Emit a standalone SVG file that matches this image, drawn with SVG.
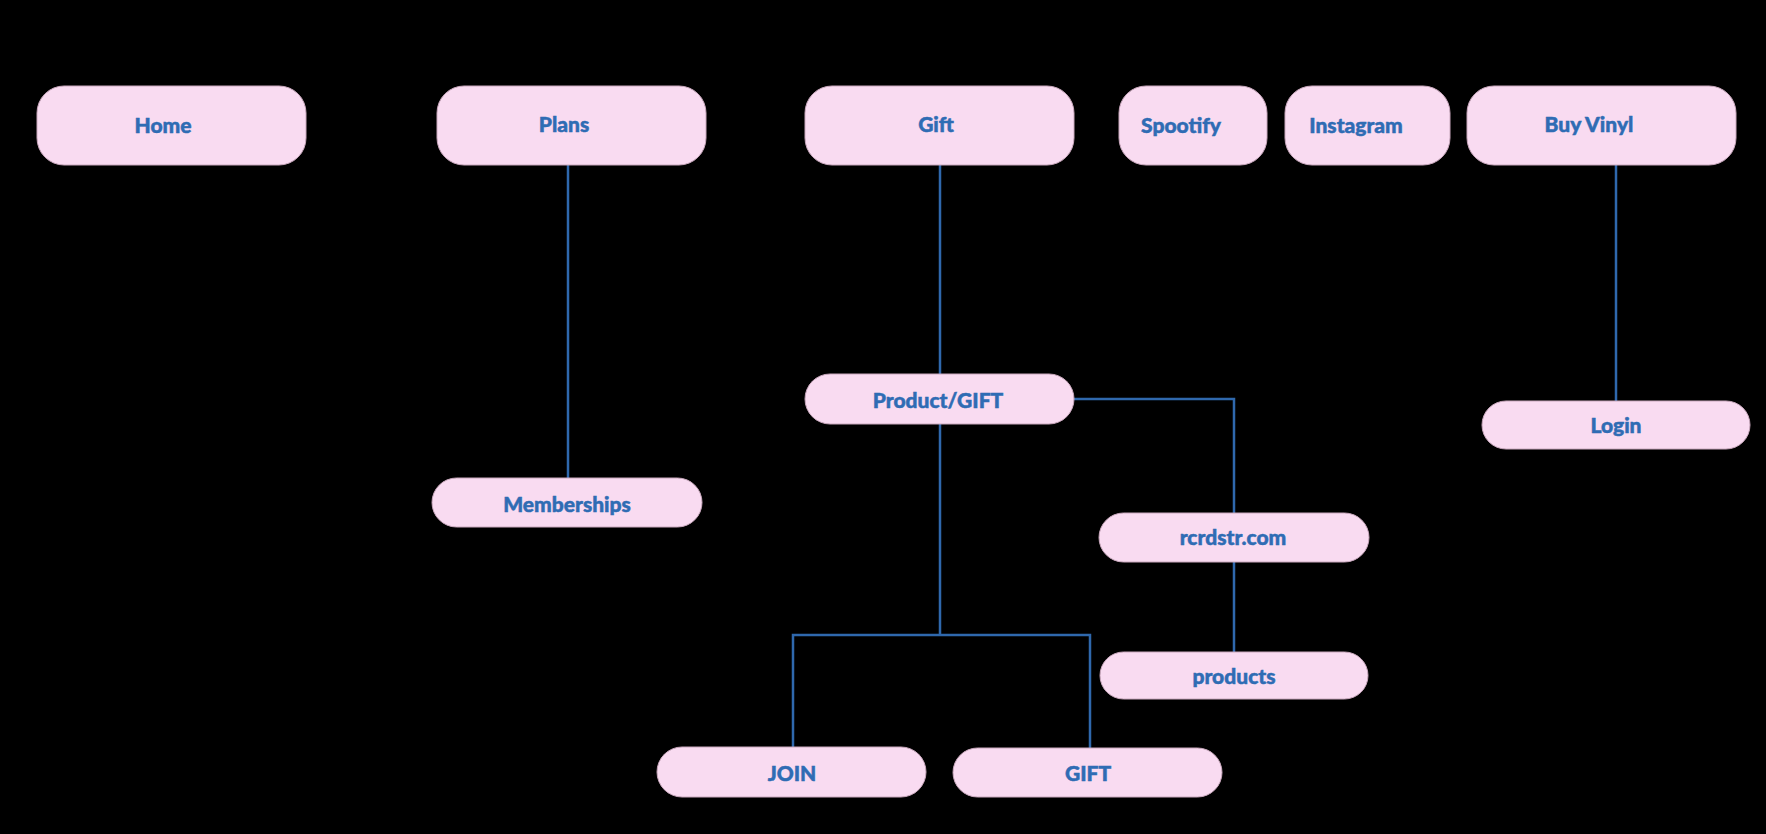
<svg xmlns="http://www.w3.org/2000/svg" width="1766" height="834" viewBox="0 0 1766 834">
<style>
.bg{fill:#000}
.node rect{fill:#f9dbf1;stroke:#c9a8bd;stroke-width:1}
.node text{fill:#2f6cb4;stroke:#2f6cb4;stroke-width:0.5;font-family:Lato,"Open Sans",sans-serif;font-weight:900;font-size:21px;text-anchor:middle;dominant-baseline:central}
.conn{fill:none;stroke:#2f68ad;stroke-width:2.5}
</style>
<rect class="bg" x="0" y="0" width="1766" height="834"/>
<g id="connectors">
<path class="conn" d="M568 165V478"/>
<path class="conn" d="M940 165V374"/>
<path class="conn" d="M1616 165V401"/>
<path class="conn" d="M1074 399H1234V513"/>
<path class="conn" d="M1234 562V652"/>
<path class="conn" d="M940 424V635"/>
<path class="conn" d="M793 747V635H1090V748"/>
</g>
<g id="home" class="node"><rect x="37" y="86" width="269" height="79" rx="27"/><text x="163" y="124">Home</text></g>
<g id="plans" class="node"><rect x="437" y="86" width="269" height="79" rx="27"/><text x="564" y="123">Plans</text></g>
<g id="gift" class="node"><rect x="805" y="86" width="269" height="79" rx="27"/><text x="936" y="123">Gift</text></g>
<g id="spotify" class="node"><rect x="1119" y="86" width="148" height="79" rx="27"/><text x="1181" y="124">Spootify</text></g>
<g id="instagram" class="node"><rect x="1285" y="86" width="165" height="79" rx="27"/><text x="1356" y="124">Instagram</text></g>
<g id="buyvinyl" class="node"><rect x="1467" y="86" width="269" height="79" rx="27"/><text x="1589" y="123">Buy Vinyl</text></g>
<g id="productgift" class="node"><rect x="805" y="374" width="269" height="50" rx="25"/><text x="938" y="399">Product/GIFT</text></g>
<g id="login" class="node"><rect x="1482" y="401" width="268" height="48" rx="24"/><text x="1616" y="424">Login</text></g>
<g id="memberships" class="node"><rect x="432" y="478" width="270" height="49" rx="24.5"/><text x="567" y="503">Memberships</text></g>
<g id="rcrdstr" class="node"><rect x="1099" y="513" width="270" height="49" rx="24.5"/><text x="1233" y="536">rcrdstr.com</text></g>
<g id="products" class="node"><rect x="1100" y="652" width="268" height="47" rx="23.5"/><text x="1234" y="675">products</text></g>
<g id="join" class="node"><rect x="657" y="747" width="269" height="50" rx="25"/><text x="792" y="772">JOIN</text></g>
<g id="gift2" class="node"><rect x="953" y="748" width="269" height="49" rx="24.5"/><text x="1088" y="772">GIFT</text></g>
</svg>
